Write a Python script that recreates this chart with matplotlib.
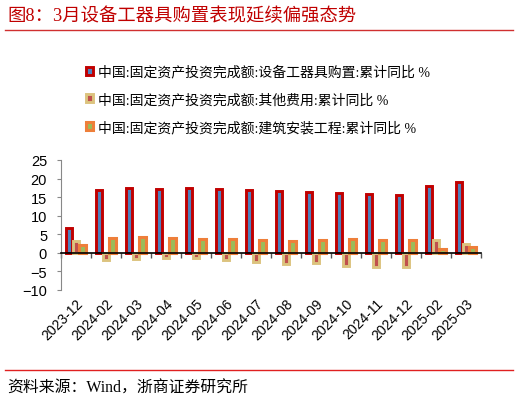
import numpy as np
import matplotlib
matplotlib.use("Agg")
import matplotlib.pyplot as plt

# data (累计同比, %)
months = ["2023-12", "2024-02", "2024-03", "2024-04", "2024-05", "2024-06",
          "2024-07", "2024-08", "2024-09", "2024-10", "2024-11", "2024-12",
          "2025-02", "2025-03"]
equipment = [6.6, 17.0, 17.5, 17.2, 17.4, 17.2, 17.0, 16.7, 16.4, 16.1, 15.8, 15.7, 18.0, 19.0]
other_cost = [3.1, -2.0, -1.6, -1.3, -1.5, -2.0, -2.5, -3.0, -2.7, -3.5, -3.8, -3.9, 3.5, 2.3]
construction = [2.2, 4.0, 4.4, 4.0, 3.6, 3.6, 3.5, 3.3, 3.4, 3.6, 3.4, 3.4, 1.1, 1.5]

labels = ["中国:固定资产投资完成额:设备工器具购置:累计同比 %",
          "中国:固定资产投资完成额:其他费用:累计同比 %",
          "中国:固定资产投资完成额:建筑安装工程:累计同比 %"]

title = "图8：3月设备工器具购置表现延续偏强态势"
source = "资料来源：Wind，浙商证券研究所"

CJK = ["Liberation Serif", "Noto Sans CJK SC"]

fig = plt.figure(figsize=(5.2, 4.02), dpi=100)
ax = fig.add_axes([61 / 520, 1 - 291 / 402, 420 / 520, 130 / 402])

x = np.arange(len(months))
b1 = ax.bar(x - 0.225, equipment, width=0.2, color="#4F81BD",
            edgecolor="#C00000", linewidth=2.1, zorder=3, label=labels[0])
b2 = ax.bar(x + 0.0, other_cost, width=0.205, color="#C0504D",
            edgecolor="#DCC37E", linewidth=2.1, zorder=4, label=labels[1])
b3 = ax.bar(x + 0.22, construction, width=0.21, color="#9BBB59",
            edgecolor="#EE7F3A", linewidth=2.2, zorder=5, label=labels[2])

ax.set_xlim(-0.5, len(months) - 0.5)
ax.set_ylim(-10, 25)
ax.set_yticks(np.arange(-10, 26, 5))

for s in ["top", "right"]:
    ax.spines[s].set_visible(False)
ax.spines["left"].set_color("#888888")
ax.spines["bottom"].set_position(("data", 0))
ax.spines["bottom"].set_color("black")
ax.spines["bottom"].set_linewidth(1.2)
ax.spines["bottom"].set_zorder(6)

ax.set_xticks(x)
ax.set_xticks(np.arange(-0.5, len(months), 1.0), minor=True)
ax.set_xticklabels(months, rotation=45, ha="right", va="top",
                   rotation_mode="anchor", fontsize=10, family="Liberation Sans")
ax.tick_params(axis="x", which="major", length=0, pad=31)
ax.tick_params(axis="x", which="minor", length=3.5, color="#555555", width=1)
ax.tick_params(axis="y", length=3, color="#888888", labelsize=10.5, pad=7)
for t in ax.get_yticklabels():
    t.set_family("Liberation Sans")

leg = fig.legend(handles=[b1, b2, b3], loc="upper left",
                 bbox_to_anchor=(86 / 520, 1 - 66 / 402), frameon=False,
                 prop={"family": CJK, "size": 10}, handlelength=0.5,
                 handleheight=0.5, handletextpad=0.4, labelspacing=1.0,
                 borderaxespad=0, borderpad=0)

fig.text(7 / 520, 1 - 16 / 402, title, color="#C00000", fontsize=13.2,
         family=CJK, va="center", ha="left")
fig.text(7 / 520, 1 - 389 / 402, source, color="black", fontsize=11.4,
         family=CJK, va="center", ha="left")
fig.add_artist(plt.Line2D([5 / 520, 513 / 520], [1 - 31 / 402] * 2,
                          color="#D03030", linewidth=1))
fig.add_artist(plt.Line2D([5 / 520, 513 / 520], [1 - 371 / 402] * 2,
                          color="#E02020", linewidth=1))

fig.savefig("out.png", dpi=100)
